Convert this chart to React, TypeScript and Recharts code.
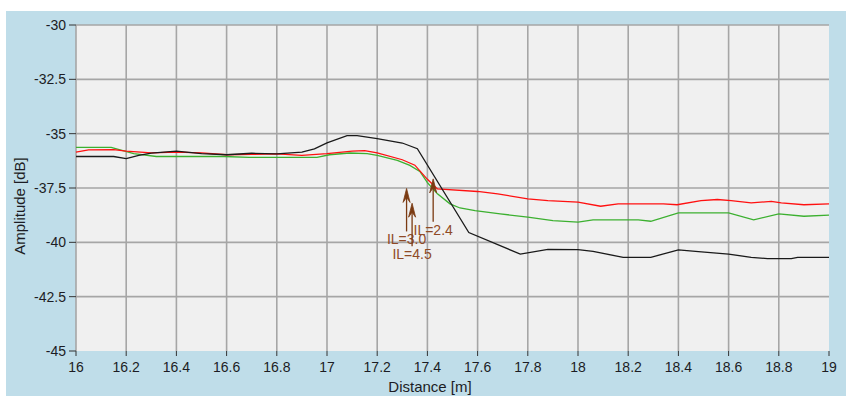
import React from 'react';
import {
  ComposedChart, Line, Scatter, XAxis, YAxis, CartesianGrid,
} from 'recharts';

// ── Colours ──────────────────────────────────────────────────────────────────
const PANEL_BG  = '#bfdde9';
const PLOT_BG   = '#f0f0f0';
const GRID      = '#a6a6a6';
const TEXT      = '#1c1c24';
const RED       = '#ff1010';
const GREEN     = '#3cb030';
const BLACK     = '#1a1a1a';
const ARROW     = '#7a3a12';
const ARROW_TXT = '#8f4a26';
const FONT      = '"Liberation Sans", Arial, sans-serif';

// ── Axes ─────────────────────────────────────────────────────────────────────
const X_MIN = 16;
const X_MAX = 19;
const Y_MIN = -45;
const Y_MAX = -30;
const X_TICKS = [16, 16.2, 16.4, 16.6, 16.8, 17, 17.2, 17.4, 17.6, 17.8, 18, 18.2, 18.4, 18.6, 18.8, 19];
const Y_TICKS = [-30, -32.5, -35, -37.5, -40, -42.5, -45];

// ── Traces (distance m / amplitude dB) ──────────────────────────────────────
const BLACK_X = [16.0, 16.15, 16.2, 16.25, 16.3, 16.4, 16.5, 16.6, 16.7, 16.8, 16.9, 16.95, 17.0, 17.08, 17.12, 17.2, 17.3, 17.36, 17.565, 17.77, 17.88, 18.0, 18.06, 18.18, 18.29, 18.4, 18.48, 18.6, 18.69, 18.755, 18.85, 18.875, 19.0];
const BLACK_Y = [-36.05, -36.05, -36.15, -36.0, -35.9, -35.8, -35.92, -35.97, -35.9, -35.93, -35.85, -35.7, -35.42, -35.09, -35.09, -35.23, -35.43, -35.69, -39.55, -40.54, -40.32, -40.34, -40.42, -40.69, -40.69, -40.35, -40.43, -40.54, -40.69, -40.75, -40.75, -40.69, -40.69];

const RED_X = [16.0, 16.05, 16.15, 16.2, 16.3, 16.4, 16.5, 16.6, 16.7, 16.8, 16.9, 17.0, 17.05, 17.1, 17.15, 17.2, 17.3, 17.35, 17.4, 17.44, 17.6, 17.68, 17.8, 17.88, 18.0, 18.09, 18.16, 18.34, 18.395, 18.49, 18.555, 18.61, 18.69, 18.77, 18.81, 18.9, 19.0];
const RED_Y = [-35.85, -35.75, -35.73, -35.8, -35.88, -35.85, -35.88, -35.97, -35.95, -35.93, -36.0, -35.92, -35.86, -35.8, -35.78, -35.88, -36.2, -36.45, -37.1, -37.54, -37.66, -37.77, -38.0, -38.08, -38.15, -38.34, -38.23, -38.23, -38.27, -38.08, -38.03, -38.08, -38.18, -38.12, -38.18, -38.27, -38.23];

const GREEN_X = [16.0, 16.14, 16.23, 16.32, 16.59, 16.69, 16.96, 17.01, 17.09, 17.16, 17.2, 17.28, 17.33, 17.37, 17.4, 17.44, 17.49, 17.53, 17.59, 17.69, 17.8, 17.9, 18.0, 18.06, 18.24, 18.29, 18.4, 18.6, 18.7, 18.8, 18.9, 19.0];
const GREEN_Y = [-35.63, -35.63, -35.92, -36.05, -36.05, -36.09, -36.09, -35.97, -35.89, -35.92, -36.0, -36.23, -36.46, -36.74, -37.25, -37.77, -38.23, -38.42, -38.54, -38.69, -38.84, -39.0, -39.07, -38.97, -38.97, -39.03, -38.64, -38.64, -38.97, -38.69, -38.8, -38.75];

// ── Insertion-loss markers ───────────────────────────────────────────────────
const IL_X = [17.317, 17.339, 17.423];
const IL_Y = [-37.52, -38.2, -37.08];
const IL_LABELS = ['IL=3.0', 'IL=4.5', 'IL=2.4'];

const zip = (xs: number[], ys: number[]) => xs.map((x, i) => ({ x, y: ys[i] }));
const blackData = zip(BLACK_X, BLACK_Y);
const redData   = zip(RED_X, RED_Y);
const greenData = zip(GREEN_X, GREEN_Y);
const ilData    = IL_X.map((x, i) => ({ x, y: IL_Y[i], label: IL_LABELS[i] }));

// grid: left border + inner lines (no line on the right edge / bottom)
const vGen = ({ offset }: any) =>
  X_TICKS.slice(0, -1).map(v => offset.left + ((v - X_MIN) / (X_MAX - X_MIN)) * offset.width);
const hGen = ({ offset }: any) =>
  Y_TICKS.slice(0, -1).map(v => offset.top + ((Y_MAX - v) / (Y_MAX - Y_MIN)) * offset.height);

// flecha IL: punta en el punto, asta hacia abajo, texto debajo
const ILArrow = (props: any) => {
  const { cx, cy, payload } = props;
  if (cx == null || cy == null) return null;
  return (
    <g>
      <line x1={cx} y1={cy + 4} x2={cx} y2={cy + 43} stroke={ARROW} strokeWidth={1.3} />
      <path
        d={`M ${cx} ${cy} L ${cx - 3.5} ${cy + 14} L ${cx} ${cy + 9} L ${cx + 3.5} ${cy + 14} Z`}
        fill={ARROW}
        stroke={ARROW}
        strokeWidth={0.8}
      />
      <text
        x={cx}
        y={cy + 56}
        textAnchor="middle"
        fontSize={14}
        fontFamily={FONT}
        fill={ARROW_TXT}
      >
        {payload.label}
      </text>
    </g>
  );
};

export default function App() {
  return (
    <div style={{ position: 'absolute', left: 0, top: 0, width: 846, height: 396, background: '#fff', fontFamily: FONT }}>
      <div style={{ position: 'absolute', left: 6, top: 11, width: 840, height: 385, background: PANEL_BG }}>
        <ComposedChart
          width={840}
          height={385}
          margin={{ top: 14, right: 17, bottom: 0, left: 8 }}
        >
          <CartesianGrid
            fill={PLOT_BG}
            stroke={GRID}
            strokeWidth={1.6}
            verticalCoordinatesGenerator={vGen}
            horizontalCoordinatesGenerator={hGen}
          />
          <XAxis
            dataKey="x"
            type="number"
            domain={[X_MIN, X_MAX]}
            ticks={X_TICKS}
            allowDecimals
            axisLine={false}
            tickSize={5}
            tickMargin={6}
            tickLine={{ stroke: '#333' }}
            tick={{ fontSize: 14, fill: TEXT, fontFamily: FONT }}
            height={45}
          />
          <YAxis
            type="number"
            domain={[Y_MIN, Y_MAX]}
            ticks={Y_TICKS}
            axisLine={false}
            tickSize={7}
            tickMargin={3}
            tickLine={{ stroke: '#333' }}
            tick={{ fontSize: 14, fill: TEXT, fontFamily: FONT }}
            width={62}
          />
          <Line data={greenData} dataKey="y" type="linear" stroke={GREEN} strokeWidth={1.3} dot={false} isAnimationActive={false} />
          <Line data={redData} dataKey="y" type="linear" stroke={RED} strokeWidth={1.3} dot={false} isAnimationActive={false} />
          <Line data={blackData} dataKey="y" type="linear" stroke={BLACK} strokeWidth={1.3} dot={false} isAnimationActive={false} />
          <Scatter data={ilData} dataKey="y" shape={ILArrow} isAnimationActive={false} />
        </ComposedChart>
      </div>

      {/* Títulos de ejes */}
      <div style={{ position: 'absolute', left: 330, top: 378, width: 200, textAlign: 'center', fontSize: 15, lineHeight: '18px', color: TEXT }}>
        Distance [m]
      </div>
      <div style={{ position: 'absolute', left: -80, top: 197, width: 200, height: 18, textAlign: 'center', fontSize: 15, lineHeight: '18px', color: TEXT, transform: 'rotate(-90deg)' }}>
        Amplitude [dB]
      </div>
    </div>
  );
}
